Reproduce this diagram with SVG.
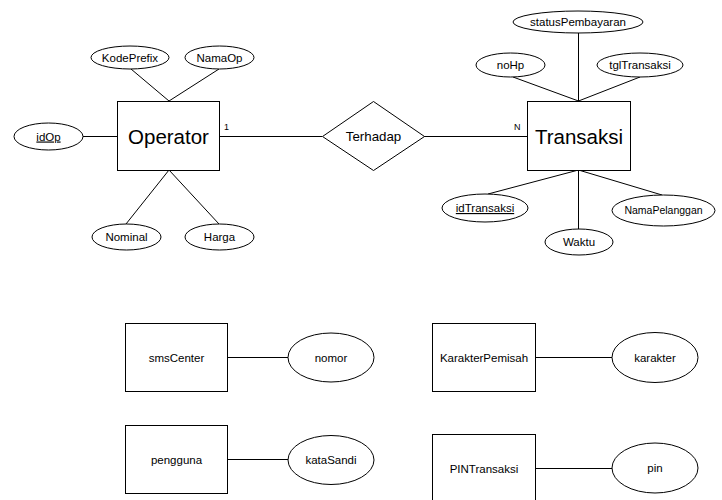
<svg xmlns="http://www.w3.org/2000/svg" width="722" height="500" viewBox="0 0 722 500">
<style>
.s{fill:#fff;stroke:#000;stroke-width:1}
.c{stroke:#000;stroke-width:1;fill:none}
text{font-family:"Liberation Sans",Arial,sans-serif;fill:#000;text-anchor:middle}
.a{font-size:11.5px}
.big{font-size:20.5px}
.u{text-decoration:underline}
.card{font-size:9px;text-anchor:start}
</style>
<rect width="722" height="500" fill="#fff"/>
<g id="connectors">
<line class="c" x1="131" y1="69" x2="169" y2="101"/>
<line class="c" x1="219" y1="69" x2="169" y2="101"/>
<line class="c" x1="83" y1="136.5" x2="117" y2="136.5"/>
<line class="c" x1="169" y1="170" x2="126" y2="224"/>
<line class="c" x1="169" y1="170" x2="219" y2="224"/>
<line class="c" x1="219" y1="136.5" x2="322" y2="136.5"/>
<line class="c" x1="424" y1="136.5" x2="527" y2="136.5"/>
<line class="c" x1="578.5" y1="33" x2="578.5" y2="101"/>
<line class="c" x1="513" y1="77" x2="578.5" y2="101"/>
<line class="c" x1="640" y1="77" x2="578.5" y2="101"/>
<line class="c" x1="578.5" y1="170" x2="488" y2="194"/>
<line class="c" x1="578.5" y1="170" x2="578.5" y2="229"/>
<line class="c" x1="578.5" y1="170" x2="662" y2="195"/>
<line class="c" x1="228" y1="357.5" x2="288" y2="357.5"/>
<line class="c" x1="228" y1="459.5" x2="288" y2="459.5"/>
<line class="c" x1="536" y1="357.5" x2="612" y2="357.5"/>
<line class="c" x1="536" y1="468.5" x2="612" y2="468.5"/>
<text class="card" x="224" y="130">1</text>
<text class="card" x="514" y="130">N</text>
</g>
<g id="Operator">
<rect class="s" x="117.5" y="101.5" width="102" height="69"/>
<text class="big" x="168.5" y="143.5">Operator</text>
</g>
<g id="KodePrefix">
<ellipse class="s" cx="130" cy="57.5" rx="39" ry="11.5"/>
<text class="a" x="130" y="61.5">KodePrefix</text>
</g>
<g id="NamaOp">
<ellipse class="s" cx="219.5" cy="57.5" rx="34.5" ry="11.5"/>
<text class="a" x="219.5" y="61.5">NamaOp</text>
</g>
<g id="idOp">
<ellipse class="s" cx="48.5" cy="136.5" rx="34.5" ry="13.5"/>
<text class="a u" x="48.5" y="140.5">idOp</text>
</g>
<g id="Nominal">
<ellipse class="s" cx="126.5" cy="237" rx="34.5" ry="13"/>
<text class="a" x="126.5" y="241">Nominal</text>
</g>
<g id="Harga">
<ellipse class="s" cx="219.5" cy="237" rx="34.5" ry="13"/>
<text class="a" x="219.5" y="241">Harga</text>
</g>
<g id="Terhadap">
<polygon class="s" points="322.5,136.5 373.5,101.5 424.5,136.5 373.5,170.5"/>
<text x="373.5" y="141" style="font-size:13.3px">Terhadap</text>
</g>
<g id="Transaksi">
<rect class="s" x="527.5" y="101.5" width="103" height="69"/>
<text class="big" x="579" y="143.5">Transaksi</text>
</g>
<g id="statusPembayaran">
<ellipse class="s" cx="578" cy="22" rx="65" ry="11"/>
<text class="a" x="578" y="26">statusPembayaran</text>
</g>
<g id="noHp">
<ellipse class="s" cx="510.5" cy="65" rx="34.5" ry="12"/>
<text class="a" x="510.5" y="69">noHp</text>
</g>
<g id="tglTransaksi">
<ellipse class="s" cx="640" cy="65" rx="43" ry="12"/>
<text class="a" x="640" y="69">tglTransaksi</text>
</g>
<g id="idTransaksi">
<ellipse class="s" cx="485" cy="208" rx="43" ry="14"/>
<text class="a u" x="485" y="212">idTransaksi</text>
</g>
<g id="Waktu">
<ellipse class="s" cx="579" cy="242" rx="34" ry="13"/>
<text class="a" x="579" y="246">Waktu</text>
</g>
<g id="NamaPelanggan">
<ellipse class="s" cx="663.5" cy="210.5" rx="51.5" ry="15.5"/>
<text x="663.5" y="214" style="font-size:10.5px">NamaPelanggan</text>
</g>
<g id="smsCenter">
<rect class="s" x="125.5" y="323.5" width="102" height="68"/>
<text class="a" x="176.5" y="361.5">smsCenter</text>
</g>
<g id="nomor">
<ellipse class="s" cx="331" cy="357.5" rx="43" ry="24.5"/>
<text class="a" x="331" y="361.5">nomor</text>
</g>
<g id="pengguna">
<rect class="s" x="125.5" y="425.5" width="102" height="68"/>
<text class="a" x="176.5" y="463.5">pengguna</text>
</g>
<g id="kataSandi">
<ellipse class="s" cx="331" cy="460" rx="43" ry="24.5"/>
<text class="a" x="331" y="464">kataSandi</text>
</g>
<g id="KarakterPemisah">
<rect class="s" x="432.5" y="323.5" width="103" height="68"/>
<text class="a" x="484" y="361.5">KarakterPemisah</text>
</g>
<g id="karakter">
<ellipse class="s" cx="655" cy="357.5" rx="43" ry="25"/>
<text class="a" x="655" y="361.5">karakter</text>
</g>
<g id="PINTransaksi">
<rect class="s" x="432.5" y="434.5" width="103" height="68"/>
<text class="a" x="484" y="472.5">PINTransaksi</text>
</g>
<g id="pin">
<ellipse class="s" cx="655" cy="468" rx="43" ry="25"/>
<text class="a" x="655" y="472">pin</text>
</g>
</svg>
